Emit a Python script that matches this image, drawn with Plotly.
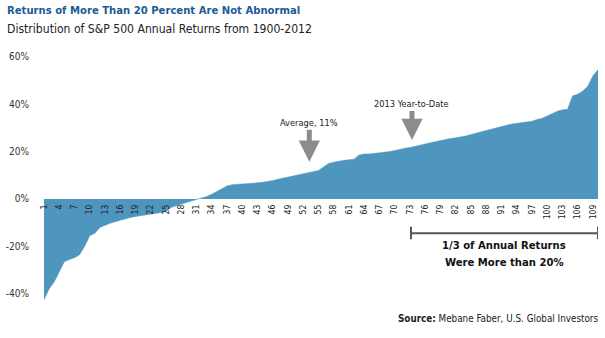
import plotly.graph_objects as go

# ---------------- data ----------------
ranks = list(range(1, 111))
returns_pct = [
    -42.5, -38.0, -35.0, -30.5, -26.5, -25.5, -24.8, -23.5, -20.0, -15.5,
    -14.5, -12.0, -11.0, -10.3, -9.6, -8.9, -8.3, -7.8, -7.4, -7.1,
    -6.7, -6.3, -6.0, -5.8, -5.4, -3.6, -2.8, -2.2, -1.5, -0.9,
    -0.3, 0.3, 1.0, 2.0, 3.2, 4.5, 5.5, 6.0, 6.1, 6.2,
    6.4, 6.6, 6.8, 7.0, 7.3, 7.8, 8.3, 8.8, 9.3, 9.8,
    10.3, 10.8, 11.2, 11.6, 12.0, 13.5, 15.0, 15.5, 16.0, 16.3,
    16.5, 16.8, 18.5, 19.0, 19.0, 19.2, 19.3, 19.6, 20.0, 20.4,
    21.0, 21.4, 21.7, 22.3, 22.8, 23.2, 23.7, 24.2, 24.6, 25.0,
    25.5, 25.8, 26.1, 26.6, 27.2, 27.8, 28.3, 28.8, 29.5, 30.2,
    30.7, 31.1, 31.6, 31.9, 32.1, 32.3, 32.8, 33.5, 34.0, 35.0,
    36.0, 37.0, 37.6, 37.8, 43.5, 44.2, 45.5, 47.5, 52.0, 54.5,
]
x_tickvals = [1, 4, 7, 10, 13, 16, 19, 22, 25, 28, 31, 34, 37, 40, 43, 46, 49,
              52, 55, 58, 61, 64, 67, 70, 73, 76, 79, 82, 85, 88, 91, 94, 97,
              100, 103, 106, 109]
x_ticktext = [str(v) for v in x_tickvals]
y_tickvals = [-40, -20, 0, 20, 40, 60]
y_ticktext = ["-40%", "-20%", "0%", "20%", "40%", "60%"]

# annotation anchors (rank, percent)
avg_point = (53.2, 15.7)
ytd_point = (73.4, 24.9)
bracket_x = (73.2, 110.0)
bracket_y = -14.5
bracket_tick = (-11.7, -17.0)

# ---------------- layout geometry ----------------
W, H = 605, 338
L, R, T, B = 44, 598, 52, 303
YMIN, YMAX = -43.9, 62.0
FONT = "DejaVu Sans Condensed, Liberation Sans Narrow, Arial Narrow, sans-serif"
BLUE = "#4f96bf"


def px_x(p):
    return (p - L) / (R - L)


def px_y(p):
    return (B - p) / (B - T)


fig = go.Figure()
fig.add_trace(go.Scatter(
    x=ranks, y=returns_pct, mode="lines", fill="tozeroy",
    fillcolor=BLUE, line=dict(color=BLUE, width=0.5), hoverinfo="skip",
    showlegend=False,
))

fig.update_layout(
    width=W, height=H,
    margin=dict(l=L, r=W - R, t=T, b=H - B),
    paper_bgcolor="white", plot_bgcolor="white",
    font=dict(family=FONT, color="#222222"),
    xaxis=dict(
        range=[1, 110], showgrid=False, zeroline=False, showline=False,
        tickvals=x_tickvals, ticktext=x_ticktext, tickangle=-90,
        tickfont=dict(size=8.5, color="#222222", family=FONT),
        anchor="free", position=(0 - YMIN) / (YMAX - YMIN),
        ticks="", ticklabelstandoff=3,
    ),
    yaxis=dict(
        range=[YMIN, YMAX], showgrid=False, zeroline=False, showline=False,
        tickvals=y_tickvals, ticktext=y_ticktext,
        tickfont=dict(size=10, color="#333333", family=FONT),
        ticks="", ticklabelstandoff=14,
    ),
)

ann = []
ann.append(dict(
    xref="paper", yref="paper", x=px_x(5), y=px_y(11), xanchor="left",
    yanchor="middle", showarrow=False,
    text="<b>Returns of More Than 20 Percent Are Not Abnormal</b>",
    font=dict(size=11.2, color="#1d5a96", family=FONT),
))
ann.append(dict(
    xref="paper", yref="paper", x=px_x(5), y=px_y(29), xanchor="left",
    yanchor="middle", showarrow=False,
    text="Distribution of S&amp;P 500 Annual Returns from 1900-2012",
    font=dict(size=12.1, color="#222222", family=FONT),
))
ann.append(dict(
    x=avg_point[0], y=avg_point[1], xref="x", yref="y",
    text="Average, 11%", showarrow=True, ax=0, ay=-39,
    arrowhead=2, arrowsize=0.85, arrowwidth=5, arrowcolor="#8c8c8c",
    font=dict(size=9.2, color="#222222", family=FONT),
))
ann.append(dict(
    x=ytd_point[0], y=ytd_point[1], xref="x", yref="y",
    text="2013 Year-to-Date", showarrow=True, ax=0, ay=-36,
    arrowhead=2, arrowsize=0.85, arrowwidth=5, arrowcolor="#8c8c8c",
    font=dict(size=9.2, color="#222222", family=FONT),
))
ann.append(dict(
    xref="paper", yref="paper", x=px_x(504), y=px_y(245),
    xanchor="center", yanchor="middle", showarrow=False,
    text="<b>1/3 of Annual Returns</b>",
    font=dict(size=11.2, color="#111111", family=FONT),
))
ann.append(dict(
    xref="paper", yref="paper", x=px_x(504), y=px_y(262),
    xanchor="center", yanchor="middle", showarrow=False,
    text="<b>Were More than 20%</b>",
    font=dict(size=11.2, color="#111111", family=FONT),
))
ann.append(dict(
    xref="paper", yref="paper", x=px_x(600), y=px_y(318),
    xanchor="right", yanchor="middle", showarrow=False,
    text="<b>Source:</b> Mebane Faber, U.S. Global Investors",
    font=dict(size=9.8, color="#222222", family=FONT),
))
fig.update_layout(annotations=ann)

shapes = [
    dict(type="line", xref="x", yref="y", x0=bracket_x[0], x1=bracket_x[1],
         y0=bracket_y, y1=bracket_y, line=dict(color="#555555", width=2)),
    dict(type="line", xref="x", yref="y", x0=bracket_x[0], x1=bracket_x[0],
         y0=bracket_tick[0], y1=bracket_tick[1], line=dict(color="#555555", width=2)),
    dict(type="line", xref="x", yref="y", x0=bracket_x[1], x1=bracket_x[1],
         y0=bracket_tick[0], y1=bracket_tick[1], line=dict(color="#555555", width=2)),
]
fig.update_layout(shapes=shapes)

fig.write_html("out.html")
